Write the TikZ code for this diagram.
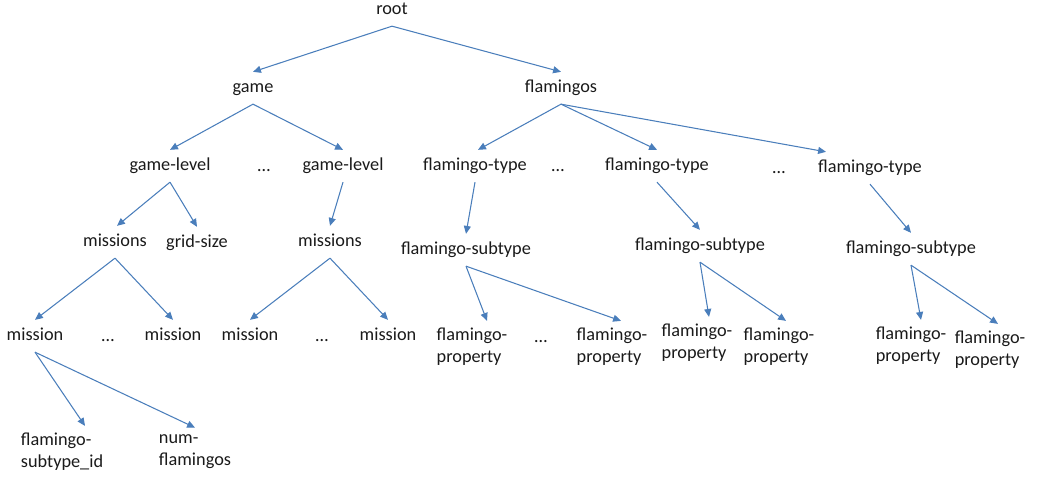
\documentclass[tikz,border=0pt]{standalone}
\usepackage{fontspec}
\setmainfont{Carlito}
\usetikzlibrary{arrows.meta, calc}
\definecolor{linkblue}{HTML}{4A7EBB}
\definecolor{txtgray}{HTML}{1A1A1A}
\tikzset{
    lbl/.style={inner sep=4pt, text=txtgray, text height=7.5pt, text depth=2.5pt},
    lbltwo/.style={inner sep=4pt, text=txtgray, align=left},
    link/.style={draw=linkblue, line width=0.6pt, -{Triangle[length=4.5pt, width=4pt]}}
}
\begin{document}
\begin{tikzpicture}[x=0.02cm, y=-0.02cm, font=\fontsize{10.4}{12.5}\selectfont]
    \useasboundingbox (0,0) rectangle (1038,494);
        % top levels
        \node[lbl] (root) at (392,10) {root};
        \node[lbl] (game) at (253,88) {game};
        \node[lbl] (flam) at (561,88) {flamingos};
        % game side
        \node[lbl] (gl1) at (170,166) {game-level};
        \node[lbl] (gdots) at (264,167) {…};
        \node[lbl] (gl2) at (343,166) {game-level};
        \node[lbl] (ms1) at (115,242) {missions};
        \node[lbl] (grid) at (197,243) {grid-size};
        \node[lbl] (ms2) at (330,242) {missions};
        \node[lbl] (m1) at (35,336) {mission};
        \node[lbl] (mdots1) at (108,337) {…};
        \node[lbl] (m2) at (173,336) {mission};
        \node[lbl] (m3) at (250,336) {mission};
        \node[lbl] (mdots2) at (322,337) {…};
        \node[lbl] (m4) at (388,336) {mission};
        \node[lbltwo] (subid) at (62,452) {flamingo-\\subtype\_id};
        \node[lbltwo] (num) at (195,452) {num-\\flamingos};
        % flamingo side
        \node[lbl] (ft1) at (475,166) {flamingo-type};
        \node[lbl] (fdots1) at (558,167) {…};
        \node[lbl] (ft2) at (657,166) {flamingo-type};
        \node[lbl] (fdots2) at (779,169) {…};
        \node[lbl] (ft3) at (870,168) {flamingo-type};
        \node[lbl] (fst1) at (466,250) {flamingo-subtype};
        \node[lbl] (fst2) at (700,246) {flamingo-subtype};
        \node[lbl] (fst3) at (911,249) {flamingo-subtype};
        \node[lbltwo] (fp1) at (472,347) {flamingo-\\property};
        \node[lbl] (pdots) at (541,338) {…};
        \node[lbltwo] (fp2) at (612,347) {flamingo-\\property};
        \node[lbltwo] (fp3) at (697,343) {flamingo-\\property};
        \node[lbltwo] (fp4) at (779,347) {flamingo-\\property};
        \node[lbltwo] (fp5) at (911,346) {flamingo-\\property};
        \node[lbltwo] (fp6) at (990,350) {flamingo-\\property};

        % connectors
        \draw[link] (root.south) -- (game.north);
        \draw[link] (root.south) -- (flam.north);
        \draw[link] (game.south) -- (gl1.north);
        \draw[link] (game.south) -- (gl2.north);
        \draw[link] (gl1.south) -- ($(ms1.north)+(2,0)$);
        \draw[link] (gl1.south) -- (grid.north);
        \draw[link] (gl2.south) -- (ms2.north);
        \draw[link] (ms1.south) -- (m1.north);
        \draw[link] (ms1.south) -- (m2.north);
        \draw[link] (ms2.south) -- (m3.north);
        \draw[link] (ms2.south) -- (m4.north);
        \draw[link] (m1.south) -- ($(subid.north)+(23,0)$);
        \draw[link] (m1.south) -- (num.north);
        \draw[link] (flam.south) -- ($(ft1.north)+(3,0)$);
        \draw[link] (flam.south) -- (ft2.north);
        \draw[link] (flam.south) -- ($(ft3.north)+(-44,0)$);
        \draw[link] (ft1.south) -- (fst1.north);
        \draw[link] (ft2.south) -- (fst2.north);
        \draw[link] (ft3.south) -- (fst3.north);
        \draw[link] (fst1.south) -- ($(fp1.north)+(15,0)$);
        \draw[link] (fst1.south) -- ($(fp2.north)+(9,0)$);
        \draw[link] (fst2.south) -- ($(fp3.north)+(12,0)$);
        \draw[link] (fst2.south) -- ($(fp4.north)+(7,0)$);
        \draw[link] (fst3.south) -- ($(fp5.north)+(10,0)$);
        \draw[link] (fst3.south) -- ($(fp6.north)+(8,0)$);
\end{tikzpicture}
\end{document}
